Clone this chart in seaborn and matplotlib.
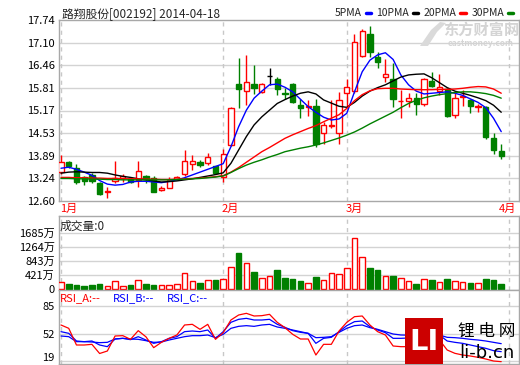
import numpy as np
import matplotlib
matplotlib.use('Agg')
import matplotlib.pyplot as plt
import matplotlib.transforms as mtrans
from matplotlib.patches import Rectangle, Polygon
import seaborn as sns

sns.set_style("white")
plt.rcParams['font.family'] = ['Noto Sans CJK SC', 'DejaVu Sans']

# ---- data (Jan-Mar 2014 trading days) ----
opens = [13.41, 13.71, 13.54, 13.27, 13.34, 13.10, 12.85, 13.17, 13.26, 13.23,
         13.20, 13.31, 13.24, 12.91, 12.98, 13.22, 13.36, 13.64, 13.72, 13.69,
         13.58, 13.29, 14.19, 15.92, 15.73, 15.92, 15.69, 16.15, 16.06, 15.67,
         15.92, 15.33, 15.27, 15.30, 14.54, 14.74, 14.52, 15.66, 15.71, 16.72,
         17.34, 16.68, 16.11, 16.06, 15.43, 15.45, 15.52, 15.35, 16.02, 15.72,
         15.77, 15.04, 15.54, 15.47, 15.27, 15.26, 14.38, 14.02]
highs = [13.91, 13.73, 13.65, 13.31, 13.39, 13.14, 13.01, 13.74, 13.37, 13.25,
         13.74, 13.33, 13.32, 13.03, 13.29, 13.31, 14.06, 13.91, 13.77, 13.95,
         13.60, 14.07, 15.27, 16.67, 16.75, 16.46, 15.96, 16.37, 16.11, 15.80,
         15.95, 15.49, 15.47, 15.49, 14.85, 15.47, 15.70, 16.06, 17.34, 17.48,
         17.57, 16.84, 16.63, 16.51, 15.75, 15.66, 15.66, 16.09, 16.27, 16.21,
         15.80, 15.70, 15.74, 15.50, 15.35, 15.29, 14.54, 14.22]
lows = [13.38, 13.55, 13.08, 13.05, 13.10, 12.76, 12.68, 13.10, 13.15, 13.12,
        13.01, 13.10, 12.85, 12.88, 12.96, 13.19, 13.31, 13.48, 13.56, 13.62,
        13.37, 13.15, 14.15, 15.25, 15.33, 15.63, 15.66, 15.90, 15.61, 15.50,
        15.37, 14.96, 15.00, 14.14, 14.22, 14.66, 14.22, 15.28, 15.66, 16.68,
        16.70, 16.37, 15.99, 15.26, 14.95, 15.28, 15.04, 15.30, 15.85, 15.61,
        14.98, 14.95, 15.30, 15.09, 15.14, 14.37, 13.93, 13.78]
closes = [13.70, 13.58, 13.13, 13.18, 13.18, 12.80, 12.87, 13.26, 13.30, 13.15,
          13.45, 13.22, 12.86, 12.98, 13.21, 13.29, 13.74, 13.74, 13.62, 13.86,
          13.40, 13.93, 15.25, 15.77, 15.99, 15.82, 15.92, 16.15, 15.78, 15.64,
          15.40, 15.23, 15.29, 14.21, 14.75, 14.76, 15.46, 15.83, 17.11, 17.44,
          16.82, 16.54, 16.21, 15.51, 15.45, 15.52, 15.35, 16.06, 15.87, 15.83,
          15.01, 15.52, 15.58, 15.31, 15.29, 14.41, 14.05, 13.88]
volume = [230, 160, 130, 100, 130, 160, 90, 260, 100, 130,
          280, 160, 130, 120, 120, 160, 480, 250, 200, 280,
          280, 300, 660, 1100, 780, 520, 330, 400, 580, 340,
          310, 250, 180, 360, 280, 480, 450, 630, 1530, 980,
          640, 580, 390, 390, 330, 250, 160, 320, 280, 220,
          310, 250, 220, 190, 190, 310, 280, 160]
ma5 = [13.53, 13.56, 13.50, 13.42, 13.33, 13.18, 13.08, 13.05, 13.07, 13.14,
       13.16, 13.16, 13.14, 13.12, 13.16, 13.20, 13.26, 13.34, 13.42, 13.50,
       13.58, 13.66, 14.14, 14.71, 15.18, 15.52, 15.72, 15.90, 15.92, 15.83,
       15.70, 15.49, 15.28, 15.12, 14.98, 14.90, 14.93, 15.09, 15.70, 16.27,
       16.60, 16.75, 16.81, 16.62, 16.18, 15.90, 15.72, 15.64, 15.66, 15.68,
       15.70, 15.66, 15.60, 15.50, 15.40, 15.25, 14.95, 14.57]
ma10 = [13.39, 13.42, 13.43, 13.42, 13.41, 13.41, 13.39, 13.34, 13.30, 13.27,
        13.23, 13.20, 13.17, 13.14, 13.15, 13.17, 13.20, 13.23, 13.27, 13.31,
        13.35, 13.40, 13.67, 14.05, 14.43, 14.76, 14.99, 15.18, 15.37, 15.48,
        15.58, 15.66, 15.70, 15.64, 15.47, 15.38, 15.29, 15.26, 15.40, 15.58,
        15.72, 15.82, 15.90, 16.01, 16.12, 16.18, 16.20, 16.21, 16.10, 15.96,
        15.82, 15.72, 15.66, 15.60, 15.53, 15.45, 15.32, 15.12]
ma20 = [13.27, 13.27, 13.26, 13.26, 13.25, 13.25, 13.24, 13.24, 13.23, 13.23,
        13.23, 13.22, 13.22, 13.21, 13.21, 13.22, 13.23, 13.24, 13.25, 13.27,
        13.29, 13.32, 13.42, 13.55, 13.70, 13.85, 14.00, 14.12, 14.25, 14.38,
        14.48, 14.57, 14.66, 14.74, 14.85, 14.95, 15.05, 15.23, 15.45, 15.62,
        15.73, 15.79, 15.80, 15.80, 15.78, 15.77, 15.76, 15.76, 15.76, 15.77,
        15.77, 15.78, 15.80, 15.83, 15.85, 15.84, 15.78, 15.66]
ma30 = [13.24, 13.24, 13.23, 13.23, 13.22, 13.22, 13.21, 13.21, 13.20, 13.20,
        13.20, 13.20, 13.20, 13.20, 13.20, 13.21, 13.22, 13.23, 13.24, 13.26,
        13.28, 13.31, 13.41, 13.52, 13.62, 13.70, 13.77, 13.85, 13.92, 14.00,
        14.05, 14.10, 14.14, 14.19, 14.25, 14.32, 14.39, 14.47, 14.56, 14.67,
        14.79, 14.90, 15.01, 15.12, 15.25, 15.37, 15.46, 15.53, 15.58, 15.62,
        15.65, 15.68, 15.70, 15.70, 15.68, 15.65, 15.60, 15.52]
rsi_a = [62.2, 58.2, 38.2, 38.2, 39.0, 28.0, 31.0, 49.0, 49.4, 45.0,
         55.4, 48.0, 35.0, 41.4, 46.2, 50.2, 62.2, 63.0, 57.0, 63.0,
         45.0, 53.0, 68.2, 74.2, 76.2, 73.0, 73.4, 75.0, 65.4, 59.0,
         51.0, 45.4, 45.4, 26.2, 39.0, 39.0, 55.0, 65.4, 72.2, 73.0,
         62.2, 54.2, 50.2, 37.0, 36.2, 36.2, 32.2, 32.2, 38.2, 44.2,
         32.2, 28.2, 26.2, 25.0, 23.4, 21.4, 19.0, 18.2]
rsi_b = [54.2, 52.2, 43.0, 42.2, 43.0, 38.2, 36.2, 45.4, 46.2, 44.6,
         48.2, 44.2, 40.2, 42.2, 46.2, 48.2, 54.2, 55.0, 54.2, 56.2,
         46.2, 54.2, 65.4, 69.0, 70.2, 68.2, 68.2, 69.0, 63.0, 59.4,
         55.4, 53.4, 52.2, 40.2, 46.2, 47.4, 54.2, 61.4, 66.2, 67.0,
         60.2, 56.2, 53.0, 46.2, 46.2, 46.6, 47.0, 47.0, 48.2, 50.2,
         43.0, 41.4, 40.2, 38.2, 36.2, 34.2, 31.4, 30.2]
rsi_c = [49.0, 48.2, 42.2, 42.2, 41.8, 41.0, 41.4, 45.4, 46.2, 45.4,
         45.0, 43.4, 41.4, 41.8, 44.2, 46.2, 48.2, 49.4, 49.4, 50.2,
         47.0, 51.0, 58.2, 60.6, 61.4, 60.6, 62.2, 63.0, 59.8, 58.2,
         56.2, 54.2, 52.2, 47.0, 47.4, 48.2, 53.4, 58.2, 61.4, 62.2,
         59.0, 57.0, 54.2, 51.4, 50.2, 50.0, 49.4, 49.4, 49.4, 50.2,
         47.4, 47.0, 46.2, 45.0, 44.2, 43.0, 41.4, 39.8]

price_ticks = [12.60, 13.24, 13.89, 14.53, 15.17, 15.81, 16.46, 17.10, 17.74]
vol_ticks = [0, 421, 843, 1264, 1685]
vol_labels = ['0', '421万', '843万', '1264万', '1685万']
rsi_ticks = [19, 52, 85]
month_pos = [0, 21, 37, 58]
month_labels = ['1月', '2月', '3月', '4月']

W, H = 520, 365
RED, GREEN, BLUE = '#FF0000', '#008000', '#0000FF'
GRID = '#D3D3D3'
SPINE = '#A8A8A8'
FS = 8


def rect(left, top, right, bottom):
    return [left / W, 1 - bottom / H, (right - left) / W, (bottom - top) / H]


def fpos(x, y):
    return x / W, 1 - y / H


fig = plt.figure(figsize=(W / 100, H / 100), dpi=100, facecolor='white')
ax = fig.add_axes(rect(59, 20, 519, 201))
ax_v = fig.add_axes(rect(59, 216, 519, 290))
ax_r = fig.add_axes(rect(59, 290, 519, 364))

x = np.arange(len(closes))
o = np.array(opens)
c = np.array(closes)
hi = np.array(highs)
lo = np.array(lows)
up = c > o
down = c < o
flat = c == o
top = np.maximum(o, c)
bot = np.minimum(o, c)
height = np.maximum(top - bot, 0.012)
wick_col = np.where(up, RED, np.where(down, GREEN, 'black'))

for a in (ax, ax_v, ax_r):
    a.set_xlim(-0.26, 59.3)
    for s in a.spines.values():
        s.set_color(SPINE)
        s.set_linewidth(1)
    a.set_xticks([])
    for m in month_pos:
        a.axvline(m, color='#C8C8C8', lw=1, ls=(0, (3, 3)), zorder=1)
    a.tick_params(axis='y', length=0, pad=3, labelsize=FS, labelcolor='black')

# ---- price panel ----
ax.set_ylim(12.60, 17.74)
ax.set_yticks(price_ticks)
ax.set_yticklabels([f'{t:.2f}' for t in price_ticks])
for t in price_ticks[1:-1]:
    ax.axhline(t, color=GRID, lw=1, zorder=0)

ax.vlines(x, hi, top, colors=wick_col, lw=1, zorder=2)
ax.vlines(x, bot, lo, colors=wick_col, lw=1, zorder=2)
ax.bar(x[up], height[up], bottom=bot[up], width=0.68, facecolor='white',
       edgecolor=RED, lw=1, zorder=3)
ax.bar(x[down], height[down], bottom=bot[down], width=0.68, facecolor=GREEN,
       edgecolor=GREEN, lw=1, zorder=3)
ax.bar(x[flat], height[flat], bottom=bot[flat], width=0.68, facecolor='black',
       edgecolor='black', lw=1, zorder=3)

for vals, col, name in [(ma5, BLUE, '5PMA'), (ma10, 'black', '10PMA'),
                        (ma20, RED, '20PMA'), (ma30, GREEN, '30PMA')]:
    sns.lineplot(x=x, y=vals, color=col, lw=1, ax=ax, label=name, zorder=4)
ax.set_ylabel('')
leg = ax.legend(ncol=4, markerfirst=False, frameon=False, loc='lower right',
                bbox_to_anchor=(0.99, 1.0), borderaxespad=0.05, fontsize=7.5,
                handlelength=0.5, handletextpad=0.35, columnspacing=0.55,
                borderpad=0.1)
for line in leg.get_lines():
    line.set_linewidth(2.5)

trans = mtrans.blended_transform_factory(ax.transData, ax.transAxes)
for m, lab in zip(month_pos, month_labels):
    ax.text(m - 0.15, -0.015, lab, transform=trans,
            ha='left' if m < 58 else 'center', va='top',
            color=RED, fontsize=FS, clip_on=False)

# ---- volume panel ----
ax_v.set_ylim(-20, 2206)
ax_v.set_yticks(vol_ticks)
ax_v.set_yticklabels(vol_labels)
for t in vol_ticks[1:]:
    ax_v.axhline(t, color=GRID, lw=1, zorder=0)
vol = np.array(volume)
ax_v.bar(x[~down], vol[~down], width=0.72, facecolor='white', edgecolor=RED,
         lw=1, zorder=3)
ax_v.bar(x[down], vol[down], width=0.72, facecolor=GREEN, edgecolor=GREEN,
         lw=1, zorder=3)

# ---- RSI panel ----
ax_r.set_ylim(15.4, 104.2)
ax_r.set_yticks(rsi_ticks)
for lab in ax_r.get_yticklabels():
    if lab.get_text() == '19':
        lab.set_verticalalignment('baseline')
for t in rsi_ticks:
    ax_r.axhline(t, color=GRID, lw=1, zorder=0)
sns.lineplot(x=x, y=rsi_c, color=BLUE, lw=0.9, ax=ax_r, zorder=3)
sns.lineplot(x=x, y=rsi_b, color=BLUE, lw=0.9, ax=ax_r, zorder=3)
sns.lineplot(x=x, y=rsi_a, color=RED, lw=0.9, ax=ax_r, zorder=4)
ax_r.set_ylabel('')

# ---- texts ----
fig.text(*fpos(62, 14), '路翔股份[002192] 2014-04-18', fontsize=FS + 0.5,
         va='center', ha='left')
fig.text(*fpos(60, 226), '成交量:0', fontsize=FS + 0.5, va='center', ha='left')
for xx, s, col in [(60, 'RSI_A:--', RED), (113, 'RSI_B:--', BLUE),
                   (167, 'RSI_C:--', BLUE)]:
    fig.text(*fpos(xx, 298), s, fontsize=FS, va='center', ha='left', color=col)

# eastmoney watermark
swoosh = [(420, 46), (431, 30), (440, 22), (446, 23), (437, 32), (428, 46)]
fig.patches.append(Polygon([fpos(px, py) for px, py in swoosh], closed=True,
                           transform=fig.transFigure, facecolor='#DADADA',
                           edgecolor='none'))
fig.text(*fpos(481, 30), '东方财富网', fontsize=11, fontweight='bold',
         color='#D4D4D4', ha='center', va='center')
fig.text(*fpos(481, 43), 'eastmoney.com', fontsize=6, fontweight='bold',
         color='#D4D4D4', ha='center', va='center')

# li-b.cn logo
fig.patches.append(Rectangle(fpos(405, 364), 38 / W, 46 / H,
                             transform=fig.transFigure, facecolor='#CC0000',
                             edgecolor='none', zorder=5))
fig.text(*fpos(424, 342), 'LI', fontsize=21, fontweight='bold', color='white',
         ha='center', va='center', family=['DejaVu Sans'], zorder=6)
fig.text(*fpos(487, 331), '锂 电 网', fontsize=12, color='black',
         ha='center', va='center', zorder=6)
fig.text(*fpos(487, 353), 'li-b.cn', fontsize=13, color='black',
         ha='center', va='center', family=['DejaVu Sans'], zorder=6)

fig.savefig('out.png', dpi=100, facecolor='white')
